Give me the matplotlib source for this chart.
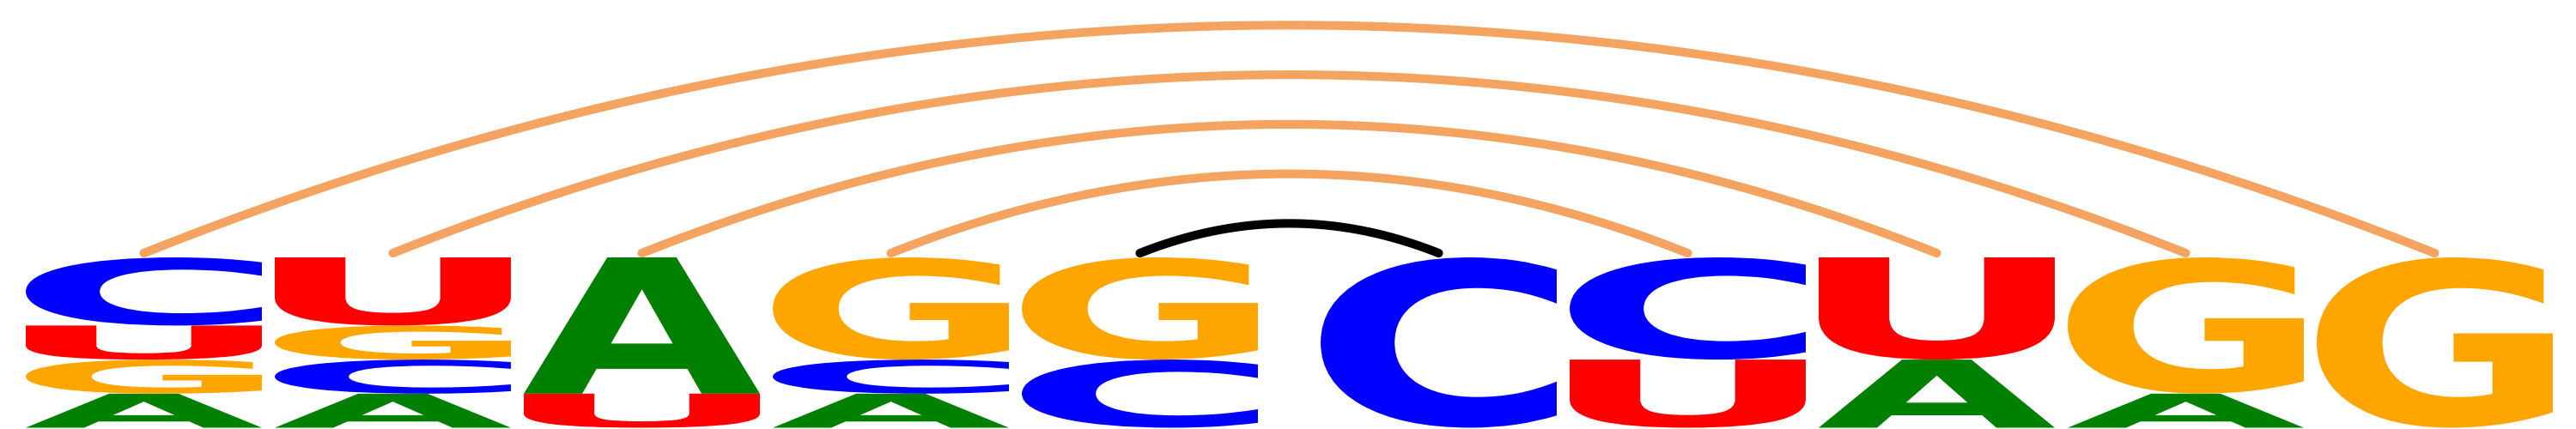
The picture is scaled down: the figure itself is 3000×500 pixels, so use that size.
import numpy as np
import matplotlib
matplotlib.use("Agg")
import matplotlib.pyplot as plt
from matplotlib.textpath import TextPath
from matplotlib.font_manager import FontProperties
from matplotlib.patches import PathPatch
from matplotlib.transforms import Affine2D

# ---- data ----
positions = [1, 2, 3, 4, 5, 6.2, 7.2, 8.2, 9.2, 10.2]
prob_A = [0.2, 0.2, 0.8, 0.2, 0.0, 0.0, 0.0, 0.4, 0.2, 0.0]
prob_C = [0.4, 0.2, 0.0, 0.2, 0.4, 1.0, 0.6, 0.0, 0.0, 0.0]
prob_G = [0.2, 0.2, 0.0, 0.6, 0.6, 0.0, 0.0, 0.0, 0.8, 1.0]
prob_U = [0.2, 0.4, 0.2, 0.0, 0.0, 0.0, 0.4, 0.6, 0.0, 0.0]
pairs = [(1, 10), (2, 9), (3, 8), (4, 7), (5, 6)]
pair_colors = ["#F4A460", "#F4A460", "#F4A460", "#F4A460", "#000000"]

letter_colors = {"A": "#008000", "C": "#0000FF", "G": "#FFA500", "U": "#FF0000"}

fig = plt.figure(figsize=(30, 5), dpi=100)
ax = fig.add_axes([0, 0, 1, 1])
ax.set_xlim(1 - 167.5 / 290, 1 + 2832.5 / 290)
ax.set_ylim(-1.5 / 198.5, 498.5 / 198.5)
ax.axis("off")

fp = FontProperties(family="DejaVu Sans", weight="bold")
letter_w = 0.948

def draw_letter(ch, xc, y0, h):
    tp = TextPath((0, 0), ch, size=100, prop=fp)
    ext = tp.get_extents()
    tr = (Affine2D()
          .translate(-ext.x0, -ext.y0)
          .scale(letter_w / ext.width, h / ext.height)
          .translate(xc - letter_w / 2, y0))
    patch = PathPatch(tr.transform_path(tp), facecolor=letter_colors[ch],
                      edgecolor="none", lw=0)
    ax.add_patch(patch)

probs = {"A": prob_A, "C": prob_C, "G": prob_G, "U": prob_U}
for i, xc in enumerate(positions):
    items = sorted([(probs[k][i], k) for k in "ACGU" if probs[k][i] > 0])
    y = 0.0
    for p, k in items:
        draw_letter(k, xc, y, p)
        y += p

# ---- base-pair arcs ----
y_end = 1.025
for (a, b), col in zip(pairs, pair_colors):
    x1, x2 = positions[a - 1], positions[b - 1]
    c = (x1 + x2) / 2
    hw = (x2 - x1) / 2
    h = 0.1455 * (x2 - x1)
    xs = np.linspace(x1, x2, 400)
    ys = y_end + h * (1 - ((xs - c) / hw) ** 2)
    ax.plot(xs, ys, color=col, lw=7.3, solid_capstyle="round")

fig.savefig("out.png", dpi=100)
